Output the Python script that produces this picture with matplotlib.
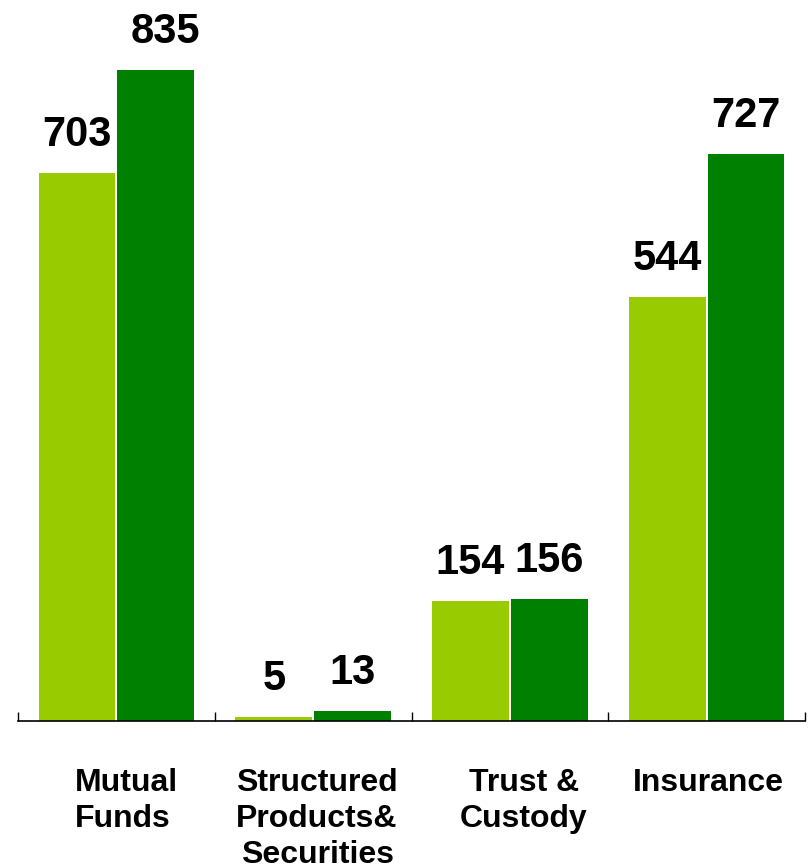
import numpy as np
import matplotlib
matplotlib.use('Agg')
import matplotlib.pyplot as plt

plt.rcParams['font.family'] = ['Liberation Sans', 'DejaVu Sans']

# data
categories = ['Mutual\nFunds', 'Structured\nProducts&\nSecurities', 'Trust &\nCustody', 'Insurance']
series_prev = [703, 5, 154, 544]
series_curr = [835, 13, 156, 727]

light_green = '#99CC00'
dark_green = '#008000'

fig = plt.figure(figsize=(8.08, 8.68), dpi=100)
ax = fig.add_axes([18 / 808, 1 - 721 / 868, 787 / 808, 721 / 868])

x = np.arange(len(categories))
width = 0.39
offset = 0.2

bars_prev = ax.bar(x - offset, series_prev, width, color=light_green, linewidth=0)
bars_curr = ax.bar(x + offset, series_curr, width, color=dark_green, linewidth=0)

ax.set_xlim(-0.5, len(categories) - 0.5)
ax.set_ylim(0, 925)

# value labels, baseline ~26px above each bar
for k, (bars, values) in enumerate(((bars_prev, series_prev), (bars_curr, series_curr))):
    for i, (b, v) in enumerate(zip(bars, values)):
        dx = 10 if (k, i) == (1, 0) else 0  # the 835 label sits a bit right in the original
        ax.annotate(str(v), (b.get_x() + b.get_width() / 2, b.get_height()),
                    xytext=(dx, 27), textcoords='offset pixels',
                    ha='center', va='baseline', fontsize=30, fontweight='bold',
                    annotation_clip=False)

# category labels below the axis (small nudges to match the original layout)
label_dx = [0.05, 0.02, 0.07, 0.01]
label_align = ['left', 'center', 'center', 'center']
for i, (cat, dx, ma) in enumerate(zip(categories, label_dx, label_align)):
    ax.annotate(cat, (i + dx, 0), xytext=(0, -47), textcoords='offset pixels',
                ha='center', va='top', ma=ma, fontsize=23, fontweight='bold',
                linespacing=1.27, annotation_clip=False)

# tick marks at the category boundaries, pointing up
ax.set_xticks(np.arange(-0.5, len(categories)))
ax.set_xticklabels([])
ax.tick_params(axis='x', direction='in', length=6.5, width=1, color='black')
ax.set_yticks([])

for side in ('left', 'top', 'right'):
    ax.spines[side].set_visible(False)
ax.spines['bottom'].set_linewidth(1.2)

fig.savefig('out.png', dpi=100)
